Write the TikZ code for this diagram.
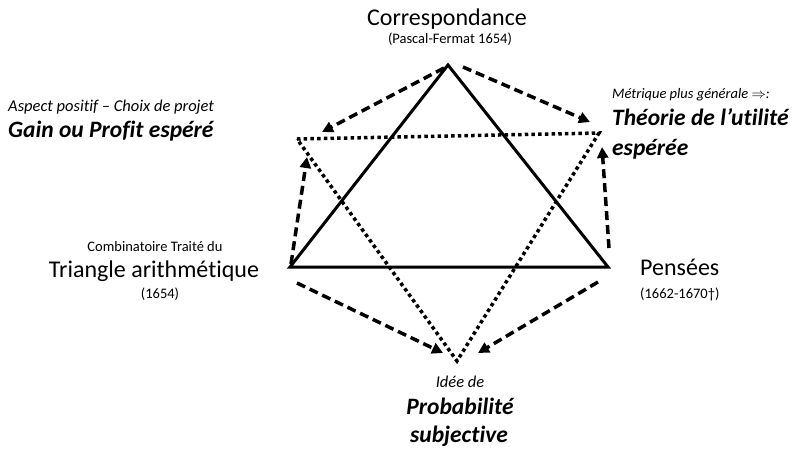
\documentclass[tikz,border=0pt]{standalone}
\usepackage{fontspec}
\setmainfont{Carlito}[Ligatures=NoCommon]
\usetikzlibrary{arrows.meta}
\begin{document}
\begin{tikzpicture}[x=1pt,y=-1pt,
  solidline/.style={line width=3pt, line join=miter},
  dashline/.style={line width=3.5pt, dash pattern=on 9pt off 5pt, -{Triangle[length=11pt,width=11pt]}},
  dotline/.style={line width=3.5pt, dash pattern=on 3.5pt off 3.2pt},
  lbl/.style={inner sep=0pt, anchor=base},
  lbll/.style={inner sep=0pt, anchor=base west},
  big/.style={font=\fontsize{24}{28}\selectfont},
  small/.style={font=\fontsize{14.5}{17}\selectfont},
  ital/.style={font=\fontsize{16.5}{19}\selectfont\itshape},
  itals/.style={font=\fontsize{14.5}{17}\selectfont\itshape},
  bital/.style={font=\fontsize{23.5}{28}\selectfont\bfseries\itshape}
]
\useasboundingbox (0,0) rectangle (793,451);
% solid triangle
\coordinate (A) at (448,65);
\coordinate (BL) at (290,267);
\coordinate (BR) at (608,267);
% dotted triangle
\coordinate (DTL) at (297,139);
\coordinate (DTR) at (599,133);
\coordinate (DB) at (457,361);
% arrow end points
\coordinate (a1s) at (444,68);  \coordinate (a1e) at (322,132);
\coordinate (a2s) at (463,67);  \coordinate (a2e) at (590,122);
\coordinate (a3s) at (291,264); \coordinate (a3e) at (307,157);
\coordinate (a4s) at (609,248); \coordinate (a4e) at (602,147);
\coordinate (a5s) at (297,283); \coordinate (a5e) at (443,353);
\coordinate (a6s) at (598,282); \coordinate (a6e) at (478,353);

\draw[solidline] (A) -- (BR) -- (BL) -- cycle;
\draw[dotline] (DTL) -- (DTR) -- (DB) -- cycle;
\draw[dashline] (a1s) -- (a1e);
\draw[dashline] (a2s) -- (a2e);
\draw[dashline] (a3s) -- (a3e);
\draw[dashline] (a4s) -- (a4e);
\draw[dashline] (a5s) -- (a5e);
\draw[dashline] (a6s) -- (a6e);

% labels
\node[lbl, big] (corr) at (447,25) {Correspondance};
\node[lbl, small] (pf) at (450,43) {(Pascal-Fermat 1654)};
\node[lbll, ital] (asp) at (8,111) {Aspect positif – Choix de projet};
\node[lbll, bital] (gain) at (8,137) {Gain ou Profit espéré};
\node[lbll, itals] (metr) at (612,98) {Métrique plus générale $\Rightarrow$:};
\node[lbll, bital] (theo) at (612,125) {Théorie de l’utilité};
\node[lbll, bital] (esp) at (612,155) {espérée};
\node[lbl, small] (comb) at (155,251) {Combinatoire Traité du};
\node[lbl, big] (tri) at (154,277) {Triangle arithmétique};
\node[lbl, small] (y1654) at (160,298) {(1654)};
\node[lbll, big] (pens) at (640,275) {Pensées};
\node[lbll, small] (ypens) at (640,298) {(1662-1670†)};
\node[lbl, ital] (idee) at (460,387) {Idée de};
\node[lbl, bital] (prob) at (460,414) {Probabilité};
\node[lbl, bital] (subj) at (459,442) {subjective};
\end{tikzpicture}
\end{document}
